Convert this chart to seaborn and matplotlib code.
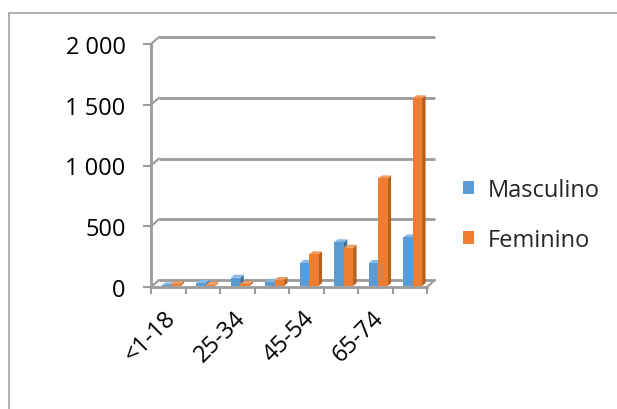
import matplotlib
matplotlib.use("Agg")
import matplotlib.pyplot as plt
import seaborn as sns
import pandas as pd
from matplotlib.transforms import ScaledTranslation
from matplotlib.patches import Polygon, Patch
from matplotlib.lines import Line2D

categories = ["<1-18", "19-24", "25-34", "35-44", "45-54", "55-64", "65-74", "75+"]
masculino = [5, 25, 68, 35, 190, 360, 190, 400]
feminino = [15, 8, 15, 50, 260, 315, 885, 1545]
series_names = ["Masculino", "Feminino"]
yticks = [0, 500, 1000, 1500, 2000]
ytick_labels = ["0", "500", "1 000", "1 500", "2 000"]

sns.set_theme(style="white")
plt.rcParams['font.family'] = ['Open Sans', 'DejaVu Sans']
FS = 17

W, H = 617, 410
fig = plt.figure(figsize=(W / 100, H / 100), dpi=100)
ax = fig.add_axes([151 / W, 1 - 288 / H, 276 / W, 243 / H])

df = pd.DataFrame({
    "Faixa": categories * 2,
    "Valor": masculino + feminino,
    "Sexo": [series_names[0]] * len(categories) + [series_names[1]] * len(categories),
})
front = {"Masculino": "#5B9BD5", "Feminino": "#ED7D31"}
side = {"Masculino": "#41719C", "Feminino": "#B4601F"}
top = {"Masculino": "#86B6E2", "Feminino": "#F29A5E"}

sns.barplot(data=df, x="Faixa", y="Valor", hue="Sexo", order=categories,
            hue_order=series_names, palette=front, width=0.54, ax=ax,
            legend=False, saturation=1, errorbar=None)

ax.set_xlim(-0.5, len(categories) - 0.5)
ax.set_ylim(0, 2000)
ax.set_xlabel("")
ax.set_ylabel("")
ax.grid(False)

gridc = "#9B9B9B"
pos = ax.get_position()
ppx = pos.width * W / (len(categories))
ppy = pos.height * H / 2000.0
gdx, gdy = 8 / ppx, 7 / ppy
bdx, bdy = 3.5 / ppx, 3 / ppy

x0, x1 = -0.5, len(categories) - 0.5
for v in yticks:
    ax.plot([x0 + gdx, x1 + gdx], [v + gdy, v + gdy], color=gridc, lw=2.0,
            zorder=1, clip_on=False, solid_capstyle="butt")
    ax.plot([x0, x0 + gdx], [v, v + gdy], color=gridc, lw=1.5, zorder=1, clip_on=False)
ax.plot([x1, x1 + gdx], [0, gdy], color=gridc, lw=1.5, zorder=1, clip_on=False)

shift = ax.transData + ScaledTranslation(3 / 100, 1 / 100, fig.dpi_scale_trans)
bars = [p for p in ax.patches]
bars.sort(key=lambda p: p.get_x())
for i, p in enumerate(bars):
    fc = p.get_facecolor()
    key = "Masculino" if abs(fc[0] - 0x5B / 255) < 0.02 else "Feminino"
    bx, w, h = p.get_x(), p.get_width(), p.get_height()
    z = 3 + i * 0.01
    p.set_transform(shift)
    p.set_zorder(z)
    p.set_edgecolor("none")
    sp = Polygon([(bx + w, 0), (bx + w, h), (bx + w + bdx, h + bdy), (bx + w + bdx, bdy)],
                 closed=True, facecolor=side[key], edgecolor="none",
                 transform=shift, zorder=z - 0.001, clip_on=False)
    tp = Polygon([(bx, h), (bx + w, h), (bx + w + bdx, h + bdy), (bx + bdx, h + bdy)],
                 closed=True, facecolor=top[key], edgecolor="none",
                 transform=shift, zorder=z - 0.001, clip_on=False)
    ax.add_patch(sp)
    ax.add_patch(tp)

for s in ["top", "right"]:
    ax.spines[s].set_visible(False)
for s in ["left", "bottom"]:
    ax.spines[s].set_color(gridc)
    ax.spines[s].set_linewidth(2.0)
    ax.spines[s].set_zorder(2)

ax.set_yticks(yticks, ytick_labels)
ax.tick_params(axis="y", left=True, length=5.8, width=1.5, color=gridc,
               pad=12.5, labelsize=FS, labelcolor="black")

xlabels = [c if i % 2 == 0 else "" for i, c in enumerate(categories)]
ax.set_xticks(range(len(categories)), xlabels)
ax.set_xticks([x0 + k for k in range(len(categories) + 1)], minor=True)
ax.tick_params(axis="x", which="major", bottom=True, length=0, pad=13.5,
               labelsize=FS, labelcolor="black")
ax.tick_params(axis="x", which="minor", bottom=True, length=5, width=1.5, color=gridc)
lab_off = ScaledTranslation(-4 / 100, 0, fig.dpi_scale_trans)
for t in ax.get_xticklabels():
    t.set_rotation(45)
    t.set_ha("right")
    t.set_va("top")
    t.set_rotation_mode("anchor")
    t.set_transform(t.get_transform() + lab_off)

handles = [Patch(facecolor=front[n], edgecolor="none") for n in series_names]
fig.legend(handles=handles, labels=series_names, loc="center left",
           bbox_to_anchor=(463 / W, 1 - 216 / H), frameon=False, fontsize=FS,
           handlelength=0.45, handleheight=0.45, handletextpad=0.6,
           labelspacing=1.1, borderpad=0, borderaxespad=0)

bc = "#A6A6A6"
fig.add_artist(Line2D([9 / W, 1], [1 - 14 / H, 1 - 14 / H], transform=fig.transFigure, color=bc, lw=1.2))
fig.add_artist(Line2D([9 / W, 9 / W], [0, 1 - 14 / H], transform=fig.transFigure, color=bc, lw=1.2))

fig.savefig("out.png", dpi=100, facecolor="white")
